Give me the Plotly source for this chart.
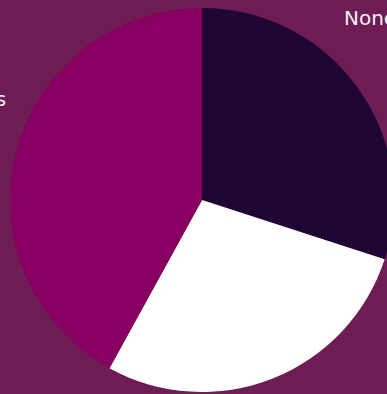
import plotly.graph_objects as go

labels = ["None", "Some", "Yes"]
values = [30, 28, 42]
colors = ["#1e0533", "#ffffff", "#870061"]

W, H = 396, 394
cx, cy, r = 202, 200, 192

fig = go.Figure(go.Pie(
    labels=labels,
    values=values,
    sort=False,
    direction="clockwise",
    rotation=0,
    marker=dict(colors=colors, line=dict(width=0)),
    textinfo="none",
    hoverinfo="label+percent",
    showlegend=False,
    domain=dict(x=[(cx - r) / W, (cx + r) / W],
                y=[(H - cy - r) / H, (H - cy + r) / H]),
))

font = dict(family="DejaVu Sans", size=20, color="#f6eef4", weight=400)
fig.add_annotation(text=labels[0], x=342 / W, y=(H - 18) / H, xref="paper", yref="paper",
                   xanchor="left", yanchor="middle", showarrow=False, font=font)
fig.add_annotation(text=labels[2], x=8 / W, y=(H - 99) / H, xref="paper", yref="paper",
                   xanchor="right", yanchor="middle", showarrow=False, font=font)

fig.update_layout(
    width=W, height=H,
    margin=dict(l=0, r=0, t=0, b=0),
    paper_bgcolor="#6d1d53",
    plot_bgcolor="#6d1d53",
)

fig.write_html("out.html", config={"displayModeBar": False},
               post_script="document.documentElement.style.overflow='hidden';document.body.style.overflow='hidden';")
